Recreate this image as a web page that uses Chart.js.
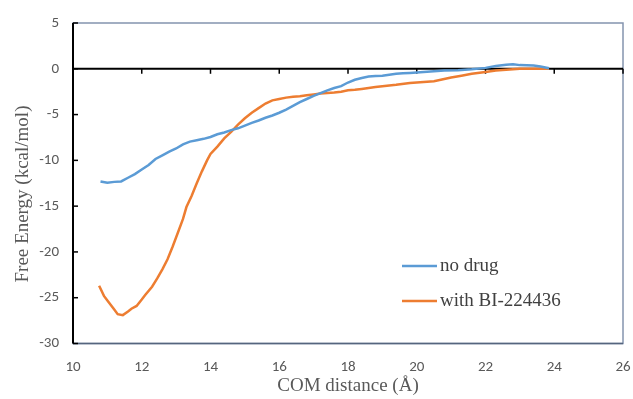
<!DOCTYPE html>
<html>
<head>
<meta charset="utf-8">
<script src="https://cdn.jsdelivr.net/npm/chart.js@4/dist/chart.umd.min.js"></script>
<style>
  html, body { margin: 0; padding: 0; background: #ffffff; }
  #wrap { width: 633px; height: 399px; position: relative; }
</style>
</head>
<body>
<div id="wrap"><canvas id="c"></canvas></div>
<script>
// ---- data ----
const seriesNames = ["no drug", "with BI-224436"];
const xNoDrug = [10.8, 11.0, 11.2, 11.4, 11.6, 11.8, 12.0, 12.2, 12.4, 12.6, 12.8, 13.0, 13.2, 13.4, 13.6, 13.8, 14.0, 14.2, 14.4, 14.6, 14.8, 15.0, 15.2, 15.4, 15.6, 15.8, 16.0, 16.2, 16.4, 16.6, 16.8, 17.0, 17.2, 17.4, 17.6, 17.8, 18.0, 18.2, 18.4, 18.6, 18.8, 19.0, 19.2, 19.4, 19.6, 19.8, 20.0, 20.4, 20.8, 21.2, 21.6, 22.0, 22.3, 22.6, 22.8, 23.0, 23.4, 23.6, 23.85];
const yNoDrug = [-12.3, -12.45, -12.35, -12.3, -11.9, -11.5, -11.0, -10.5, -9.85, -9.45, -9.05, -8.7, -8.25, -7.95, -7.8, -7.65, -7.45, -7.15, -6.95, -6.7, -6.5, -6.2, -5.9, -5.65, -5.35, -5.1, -4.8, -4.45, -4.05, -3.65, -3.3, -2.95, -2.65, -2.35, -2.1, -1.9, -1.5, -1.2, -1.0, -0.85, -0.8, -0.75, -0.65, -0.55, -0.5, -0.45, -0.4, -0.3, -0.2, -0.15, -0.05, 0.1, 0.3, 0.45, 0.5, 0.4, 0.35, 0.25, 0.05];
const xWithDrug = [10.76, 10.9, 11.0, 11.2, 11.3, 11.45, 11.6, 11.7, 11.85, 12.0, 12.1, 12.3, 12.45, 12.6, 12.75, 12.9, 13.05, 13.2, 13.3, 13.45, 13.6, 13.75, 13.9, 14.0, 14.2, 14.4, 14.6, 14.8, 15.0, 15.2, 15.4, 15.6, 15.8, 16.0, 16.2, 16.4, 16.6, 16.8, 17.0, 17.2, 17.4, 17.6, 17.8, 18.0, 18.2, 18.4, 18.6, 18.8, 19.0, 19.4, 19.8, 20.2, 20.5, 20.7, 21.0, 21.3, 21.6, 22.0, 22.3, 22.6, 23.0, 23.5, 23.85];
const yWithDrug = [-23.7, -24.8, -25.3, -26.3, -26.8, -26.9, -26.5, -26.2, -25.9, -25.2, -24.7, -23.8, -22.9, -21.9, -20.8, -19.4, -17.9, -16.4, -15.1, -13.9, -12.5, -11.2, -10.0, -9.3, -8.5, -7.6, -6.9, -6.1, -5.4, -4.8, -4.3, -3.8, -3.45, -3.3, -3.15, -3.05, -3.0, -2.9, -2.8, -2.7, -2.65, -2.6, -2.5, -2.35, -2.3, -2.2, -2.1, -2.0, -1.9, -1.75, -1.55, -1.45, -1.35, -1.2, -0.95, -0.75, -0.55, -0.35, -0.2, -0.1, 0.0, 0.0, 0.0];
const xTickRange = [10, 26, 2];
const yTickRange = [-30, 5, 5];
const xTitle = "COM distance (Å)";
const yTitle = "Free Energy (kcal/mol)";

const toPoints = (xs, ys) => xs.map((x, i) => ({ x: x, y: ys[i] }));

const colors = ["#5B9BD5", "#ED7D31"];
const tickFont = { family: "Carlito, Lato, 'Open Sans', sans-serif", size: 15 };
const serif = "'Liberation Serif', 'DejaVu Serif', serif";

// plugin: plot frame, axes lines, inner ticks, axis titles, legend
const frame = {
  id: 'frame',
  beforeDatasetsDraw(chart) {
    const { ctx, chartArea: a, scales } = chart;
    const xs = scales.x, ys = scales.y;
    ctx.save();
    ctx.strokeStyle = '#8494AE';
    ctx.lineWidth = 1.5;
    ctx.strokeRect(a.left, a.top, a.right - a.left, a.bottom - a.top);
    ctx.strokeStyle = '#55657E';
    ctx.beginPath(); ctx.moveTo(a.left, a.bottom); ctx.lineTo(a.right, a.bottom); ctx.stroke();
    ctx.strokeStyle = '#000';
    ctx.lineWidth = 2;
    ctx.beginPath(); ctx.moveTo(a.left, a.top); ctx.lineTo(a.left, a.bottom); ctx.stroke();
    ctx.lineWidth = 1.5;
    ys.ticks.forEach(t => {
      const py = ys.getPixelForValue(t.value);
      ctx.beginPath(); ctx.moveTo(a.left, py); ctx.lineTo(a.left + 5, py); ctx.stroke();
    });
    const y0 = ys.getPixelForValue(0);
    ctx.lineWidth = 2;
    ctx.beginPath(); ctx.moveTo(a.left, y0); ctx.lineTo(a.right, y0); ctx.stroke();
    ctx.lineWidth = 1.5;
    xs.ticks.forEach(t => {
      const px = xs.getPixelForValue(t.value);
      ctx.beginPath(); ctx.moveTo(px, y0); ctx.lineTo(px, y0 + 5); ctx.stroke();
    });
    ctx.restore();
  },
  afterDraw(chart) {
    const { ctx, chartArea: a } = chart;
    ctx.save();
    ctx.fillStyle = '#595959';
    ctx.font = "19px " + serif;
    ctx.textAlign = 'center';
    ctx.textBaseline = 'middle';
    ctx.fillText(xTitle, (a.left + a.right) / 2, 386);
    ctx.translate(23, 194);
    ctx.rotate(-Math.PI / 2);
    ctx.fillText(yTitle, 0, 0);
    ctx.restore();
    ctx.save();
    ctx.font = "19px " + serif;
    ctx.textAlign = 'left';
    ctx.textBaseline = 'middle';
    chart.data.datasets.forEach((ds, i) => {
      const ly = 266 + i * 35;
      ctx.strokeStyle = ds.borderColor;
      ctx.lineWidth = 2.5;
      ctx.beginPath(); ctx.moveTo(402, ly); ctx.lineTo(437, ly); ctx.stroke();
      ctx.fillStyle = '#404040';
      ctx.fillText(ds.label, 440, ly);
    });
    ctx.restore();
  }
};

new Chart(document.getElementById('c'), {
  type: 'line',
  data: {
    datasets: [
      { label: seriesNames[0], data: toPoints(xNoDrug, yNoDrug), borderColor: colors[0], backgroundColor: colors[0], borderWidth: 2.5, pointRadius: 0, tension: 0, fill: false },
      { label: seriesNames[1], data: toPoints(xWithDrug, yWithDrug), borderColor: colors[1], backgroundColor: colors[1], borderWidth: 2.5, pointRadius: 0, tension: 0, fill: false }
    ]
  },
  options: {
    responsive: true,
    maintainAspectRatio: false,
    animation: false,
    layout: { padding: { top: 23, right: 10, left: 0, bottom: 0 } },
    plugins: { legend: { display: false }, tooltip: { enabled: false } },
    scales: {
      x: {
        type: 'linear',
        min: xTickRange[0], max: xTickRange[1],
        ticks: { stepSize: xTickRange[2], color: '#595959', font: tickFont, padding: 7 },
        grid: { display: false },
        border: { display: false },
        afterFit(s) { s.height = 55.5; s.paddingRight = 0; s.paddingLeft = 0; }
      },
      y: {
        type: 'linear',
        min: yTickRange[0], max: yTickRange[1],
        ticks: { stepSize: yTickRange[2], color: '#595959', font: tickFont, padding: 6 },
        grid: { display: false },
        border: { display: false },
        afterFit(s) { s.width = 73; s.paddingTop = 0; s.paddingBottom = 0; }
      }
    }
  },
  plugins: [frame]
});
</script>
</body>
</html>
